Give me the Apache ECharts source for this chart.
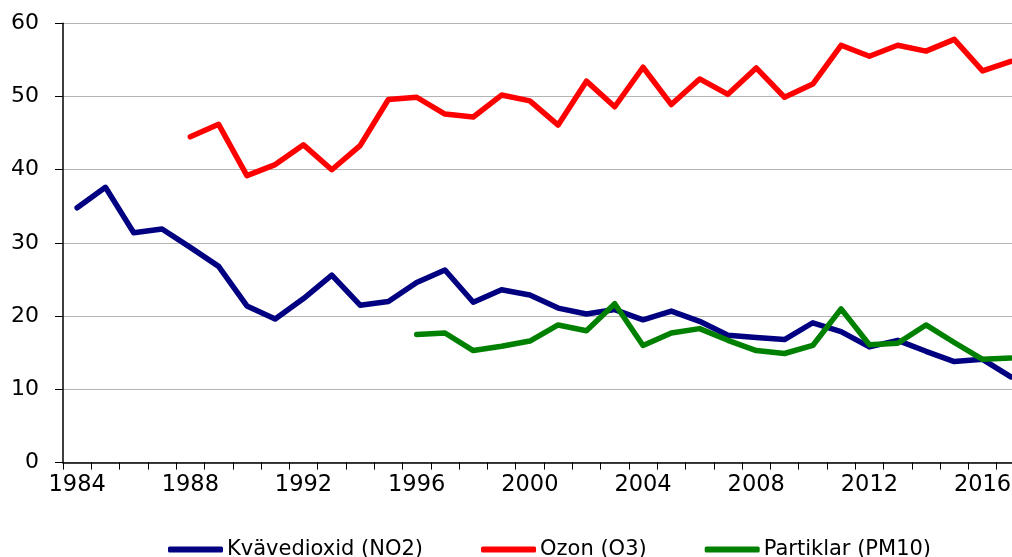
<!DOCTYPE html>
<html>
<head>
<meta charset="utf-8">
<script src="https://cdn.jsdelivr.net/npm/echarts@6/dist/echarts.min.js"></script>
<style>
html,body{margin:0;padding:0;background:#fff;overflow:hidden;width:1012px;height:557px;}
#chart{width:1025px;height:557px;}
</style>
</head>
<body>
<div id="chart"></div>
<script>
const years = ['1984','1985','1986','1987','1988','1989','1990','1991','1992','1993','1994','1995','1996','1997','1998','1999','2000','2001','2002','2003','2004','2005','2006','2007','2008','2009','2010','2011','2012','2013','2014','2015','2016','2017'];
const no2 = [34.8,37.6,31.4,31.9,29.4,26.8,21.4,19.6,22.4,25.6,21.5,22.0,24.6,26.3,21.9,23.6,22.9,21.1,20.3,20.9,19.5,20.7,19.3,17.4,17.1,16.8,19.1,17.9,15.8,16.7,15.2,13.8,14.1,11.7];
const ozon = [null,null,null,null,44.5,46.2,39.2,40.7,43.4,40.0,43.3,49.6,49.9,47.6,47.2,50.2,49.4,46.1,52.1,48.6,54.0,48.9,52.4,50.3,53.9,49.9,51.7,57.0,55.5,57.0,56.2,57.8,53.5,54.8];
const pm10 = [null,null,null,null,null,null,null,null,null,null,null,null,17.5,17.7,15.3,15.9,16.6,18.8,18.0,21.7,16.0,17.7,18.3,16.7,15.3,14.9,16.0,21.0,16.1,16.3,18.8,16.4,14.1,14.3];
const yTicks = [0,10,20,30,40,50,60];
const names = ['Kvävedioxid (NO2)','Ozon (O3)','Partiklar (PM10)'];

const font = 'DejaVu Sans, Verdana, sans-serif';
const chart = echarts.init(document.getElementById('chart'), null, {renderer:'canvas'});
function mk(name, data, color){
  return {
    name: name, type:'line', data: data, symbol:'none', showSymbol:false,
    connectNulls:false, animation:false,
    lineStyle:{color:color, width:5.5, join:'round', cap:'round'},
    itemStyle:{color:color}
  };
}
chart.setOption({
  animation:false,
  backgroundColor:'#fff',
  grid:{left:63, top:23.3, right:0, bottom:94.4, containLabel:false},
  legend:{
    left:163, top:534,
    itemWidth:55, itemHeight:6, itemGap:58,
    textStyle:{fontFamily:font, fontSize:21, color:'#000', padding:[0,0,0,-1]},
    icon:'roundRect',
    data: names
  },
  xAxis:{
    type:'category', data: years, boundaryGap:true,
    axisLine:{lineStyle:{color:'#000', width:1.5}},
    axisTick:{show:true, interval:0, length:7, alignWithLabel:false, lineStyle:{color:'#000'}},
    axisLabel:{interval:3, fontFamily:font, fontSize:22.5, color:'#000', margin:11},
    splitLine:{show:false}
  },
  yAxis:{
    type:'value', min:0, max:60, interval:10,
    axisLine:{show:true, lineStyle:{color:'#000', width:1.5}},
    axisTick:{show:true, length:8, lineStyle:{color:'#000'}},
    axisLabel:{fontFamily:font, fontSize:22, color:'#000', margin:24,
      formatter: v => yTicks.indexOf(v) >= 0 ? String(v) : ''},
    splitLine:{show:true, lineStyle:{color:'#b4b4b4', width:1}}
  },
  series:[
    mk(names[0], no2, '#000080'),
    mk(names[1], ozon, '#ff0000'),
    mk(names[2], pm10, '#008000')
  ]
});
</script>
</body>
</html>
